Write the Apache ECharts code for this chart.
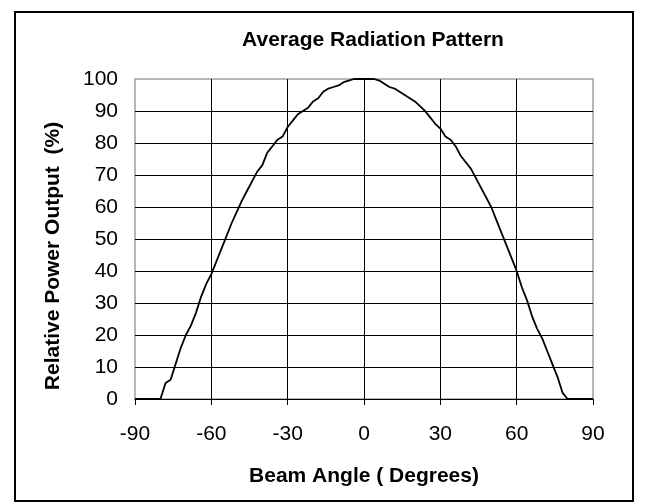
<!DOCTYPE html>
<html>
<head>
<meta charset="utf-8">
<title>Average Radiation Pattern</title>
<script src="https://cdn.jsdelivr.net/npm/echarts@6/dist/echarts.min.js"></script>
<style>
  html, body { margin: 0; padding: 0; background: #fff; }
  #chart { width: 646px; height: 504px; }
</style>
</head>
<body>
<div id="chart"></div>
<script>
// beam angle in degrees at 2 degree steps
const angles = [
  -90, -88, -86, -84, -82, -80, -78, -76, -74, -72, -70, -68, -66, -64, -62, -60,
  -58, -56, -54, -52, -50, -48, -46, -44, -42, -40, -38, -36, -34, -32, -30,
  -28, -26, -24, -22, -20, -18, -16, -14, -12, -10, -8, -6, -4, -2, 0,
  2, 4, 6, 8, 10, 12, 14, 16, 18, 20, 22, 24, 26, 28, 30,
  32, 34, 36, 38, 40, 42, 44, 46, 48, 50, 52, 54, 56, 58, 60,
  62, 64, 66, 68, 70, 72, 74, 76, 78, 80, 82, 84, 86, 88, 90
]
// relative power output (%)
const power = [
  0, 0, 0, 0, 0, 0, 5, 6, 11, 16, 20, 23, 27, 32, 36, 39,
  43, 47, 51, 55, 58.5, 62, 65, 68, 71, 73, 77, 79, 81, 82, 85,
  87, 89, 90, 91, 93, 94, 96, 97, 97.5, 98, 99, 99.5, 100, 100, 100,
  100, 100, 99.5, 98.5, 97.5, 97, 96, 95, 94, 93, 91.5, 90, 88, 86, 84.5,
  82, 81, 79, 76, 74, 72, 69, 66, 63, 60, 56, 52, 48, 44, 40,
  35, 31, 26, 22, 19, 15, 11, 7, 2, 0, 0, 0, 0, 0, 0
]
const xTicks = [-90, -60, -30, 0, 30, 60, 90]

const font = 'Liberation Sans, Arial, sans-serif'
const chart = echarts.init(document.getElementById('chart'))

chart.setOption({
  animation: false,
  title: {
    text: 'Average Radiation Pattern',
    left: 368,
    top: 25,
    textAlign: 'center',
    textStyle: { fontFamily: font, fontSize: 21, fontWeight: 'bold', color: '#000' },
  },
  grid: {
    left: 135,
    right: 53,
    top: 79,
    bottom: 105,
    show: true,
    borderColor: '#a0a0a0',
    borderWidth: 1.5,
  },
  xAxis: {
    type: 'value',
    min: xTicks[0],
    max: xTicks[xTicks.length - 1],
    interval: 30,
    name: 'Beam Angle ( Degrees)',
    nameLocation: 'middle',
    nameGap: 67,
    nameTextStyle: { fontFamily: font, fontSize: 21, fontWeight: 'bold', color: '#000' },
    axisLine: { show: true, onZero: false, lineStyle: { color: '#000', width: 1 } },
    axisTick: { show: true, inside: false, length: 6, lineStyle: { color: '#000' } },
    axisLabel: { margin: 25, fontFamily: font, fontSize: 21, color: '#000' },
    splitLine: { show: true, showMinLine: false, showMaxLine: false, lineStyle: { color: '#000', width: 1 } },
  },
  yAxis: {
    type: 'value',
    min: 0,
    max: 100,
    interval: 10,
    name: 'Relative Power Output  (%)',
    nameLocation: 'middle',
    nameGap: 71,
    nameTextStyle: {
      fontFamily: font, fontSize: 21, fontWeight: 'bold', color: '#000',
      padding: [0, 34, 0, 0],
    },
    axisLine: { show: true, lineStyle: { color: '#000', width: 1 } },
    axisTick: { show: true, inside: false, length: 5, lineStyle: { color: '#000' } },
    axisLabel: { margin: 17, fontFamily: font, fontSize: 21, color: '#000' },
    splitLine: { show: true, showMinLine: false, showMaxLine: false, lineStyle: { color: '#000', width: 1 } },
  },
  graphic: [
    {
      type: 'rect',
      shape: { x: 15, y: 12, width: 618, height: 489 },
      style: { fill: 'none', stroke: '#000', lineWidth: 2 },
      silent: true,
    },
  ],
  series: [
    {
      type: 'line',
      data: angles.map((a, i) => [a, power[i]]),
      showSymbol: false,
      lineStyle: { color: '#000', width: 1.8 },
    },
  ],
})
</script>
</body>
</html>
